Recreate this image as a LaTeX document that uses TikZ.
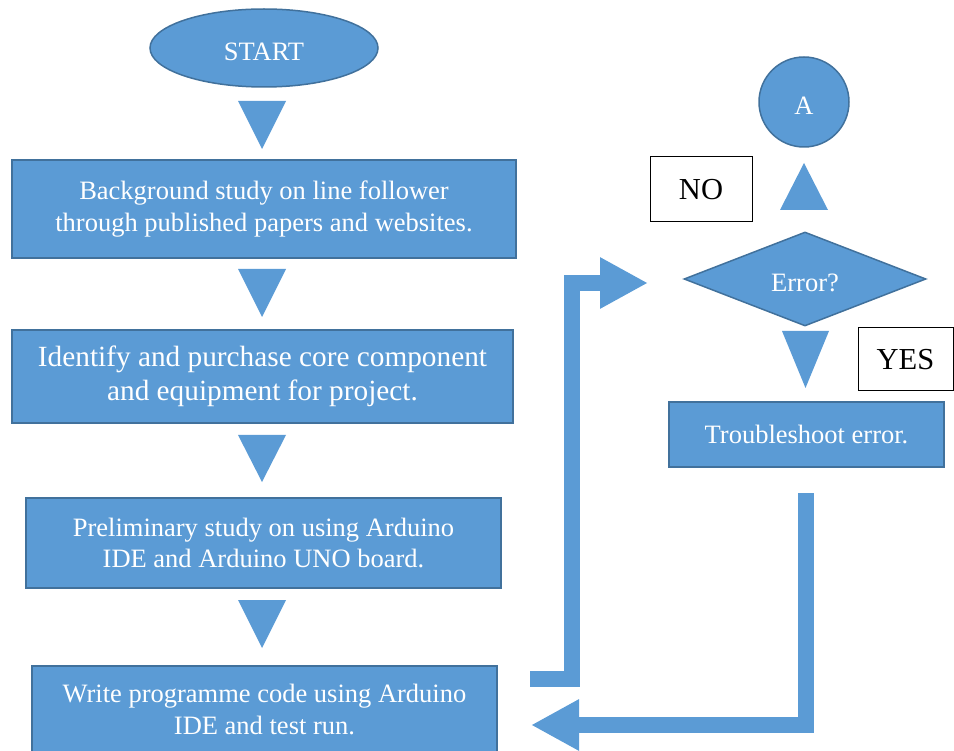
\documentclass[tikz,border=0pt]{standalone}
\usepackage{fontspec}
\setmainfont{Liberation Serif}
\usetikzlibrary{positioning, arrows.meta, shapes.geometric}
\definecolor{flowblue}{RGB}{91,155,213}
\definecolor{flowedge}{RGB}{65,113,156}

\begin{document}
\begin{tikzpicture}[x=1pt, y=-1pt,
    stepbox/.style={draw=flowedge, line width=1.5pt, fill=flowblue, text=white,
                    align=center, inner sep=0pt, font=\fontsize{26.5}{31.5}\selectfont},
    sunk/.style={execute at begin node=\rule{0pt}{25pt}},
    answer/.style={draw=black, line width=1pt, fill=white, inner sep=0pt,
                   font=\fontsize{30.5}{36}\selectfont},
    tri/.style={fill=flowblue},
    bigflow/.style={draw=flowblue, line width=16pt, -{Triangle[length=48pt, width=48pt]}}]
    \useasboundingbox (0,0) rectangle (954,751);

    % main column
    \node[stepbox, sunk, ellipse, minimum width=228pt, minimum height=78pt] (start) at (264,48) {START};
    \node[stepbox, sunk, minimum width=504pt, minimum height=98pt] (study) at (264,209)
        {Background study on line follower\\through published papers and websites.};
    \node[stepbox, sunk, minimum width=501pt, minimum height=93pt, font=\fontsize{29.3}{34}\selectfont]
        (buy) at (262.5,376.5) {Identify and purchase core component\\and equipment for project.};
    \node[stepbox, sunk, minimum width=475pt, minimum height=90pt] (ide) at (263.5,543)
        {Preliminary study on using Arduino\\IDE and Arduino UNO board.};
    \node[stepbox, sunk, minimum width=465pt, minimum height=87pt] (code) at (264.5,709.5)
        {Write programme code using Arduino\\IDE and test run.};

    \fill[tri] (238,101) -- (286,101) -- (262,149) -- cycle;
    \fill[tri] (238,269) -- (286,269) -- (262,317) -- cycle;
    \fill[tri] (238,435) -- (286,435) -- (262,482) -- cycle;
    \fill[tri] (238,600) -- (286,600) -- (262,648) -- cycle;

    % error check
    \node[stepbox, sunk, circle, minimum size=90pt] (conA) at (804,102) {A};
    \node[stepbox, sunk, diamond, minimum width=242pt, minimum height=94pt] (error) at (805,279) {Error?};
    \node[stepbox, minimum width=275pt, minimum height=65pt] (fix) at (806.5,434.5) {Troubleshoot error.};
    \node[answer, minimum width=102pt, minimum height=65pt] (no) at (701,189.5) {NO};
    \node[answer, minimum width=95pt, minimum height=63pt] (yes) at (905.5,359.5) {YES};

    \fill[tri] (780,210) -- (828,210) -- (804,163) -- cycle;
    \fill[tri] (782,331) -- (829,331) -- (805.5,388) -- cycle;

    % loops
    \coordinate (loopout) at (530,679);
    \coordinate (loopin) at (648,283);
    \coordinate (fixout) at (805.5,493);
    \coordinate (fixin) at (531,725);
    \draw[bigflow] (loopout) -| (571.5,283) -- (loopin);
    \draw[bigflow] (fixout) |- (fixin);
\end{tikzpicture}
\end{document}
